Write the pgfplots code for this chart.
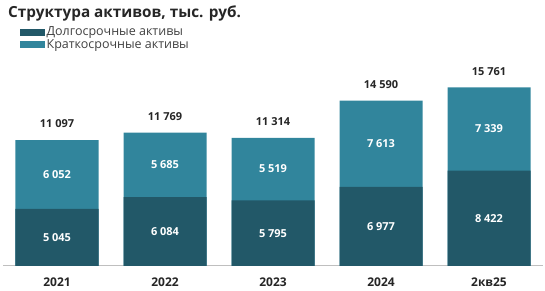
\documentclass[border=0pt]{standalone}
\usepackage{fontspec}
\setmainfont{Open Sans}
\usepackage{pgfplots}
\usepackage{pgfplotstable}
\pgfplotsset{compat=1.18}
\definecolor{darkc}{RGB}{34,88,104}
\definecolor{lightc}{RGB}{49,133,156}
\definecolor{txt}{RGB}{38,38,38}
\definecolor{legtxt}{RGB}{64,64,64}
\definecolor{axgray}{RGB}{191,191,191}

\pgfplotstableread{
x dark light total
0 5045 6052 11097
1 6084 5685 11769
2 5795 5519 11314
3 6977 7613 14590
4 8422 7339 15761
}\data

\begin{document}
\begin{tikzpicture}[x=1pt,y=1pt]
\useasboundingbox (-3,-25) rectangle (542,266);
\begin{axis}[
  at={(0,0)}, anchor=south west,
  scale only axis, width=540pt, height=204pt,
  xmin=-0.5, xmax=4.5, ymin=0, ymax=18000,
  hide y axis,
  axis x line*=bottom,
  x axis line style={axgray, line width=1pt, -},
  xtick={0,1,2,3,4},
  xticklabels={2021,2022,2023,2024,2кв25},
  major tick length=0pt,
  xticklabel style={font=\bfseries\fontsize{12}{14}\selectfont, text=txt, anchor=base, yshift=-20pt},
  /pgf/number format/assume math mode=true,
  /pgf/number format/1000 sep={\ },
  clip=false,
  title={Структура активов, тыс. руб.},
  title style={at={(axis description cs:0.0093,1.2206)}, anchor=base west, yshift=-7pt, inner sep=0pt, font=\bfseries\fontsize{15.3}{18}\selectfont, text=txt},
  legend style={at={(axis description cs:0.0315,1.1985)}, yshift=-3pt, anchor=north west, draw=none, fill=none, inner sep=0pt, font=\fontsize{12.5}{15}\selectfont, text=legtxt, cells={anchor=west}, row sep=-2pt},
]
\addlegendimage{legend image code/.code={\fill[darkc] (0pt,-3pt) rectangle (24pt,3pt);}}
\addlegendentry{Долгосрочные активы}
\addlegendimage{legend image code/.code={\fill[lightc] (0pt,-3pt) rectangle (24pt,3pt);}}
\addlegendentry{Краткосрочные активы}

\addplot[ybar, bar width=83pt, bar shift=0pt, fill=lightc, draw=none, forget plot] table[x=x,y=total]{\data};
\addplot[ybar, bar width=83pt, bar shift=0pt, fill=darkc, draw=none, forget plot] table[x=x,y=dark]{\data};

\addplot[draw=none, mark=none, forget plot, nodes near coords, point meta=explicit,
  nodes near coords style={anchor=center, inner sep=0pt, font=\bfseries\fontsize{11}{13}\selectfont, text=white}]
  table[x=x, y expr=\thisrow{dark}/2, meta=dark]{\data};
\addplot[draw=none, mark=none, forget plot, nodes near coords, point meta=explicit,
  nodes near coords style={anchor=center, inner sep=0pt, font=\bfseries\fontsize{11}{13}\selectfont, text=white}]
  table[x=x, y expr=\thisrow{dark}+\thisrow{light}/2, meta=light]{\data};
\addplot[draw=none, mark=none, forget plot, nodes near coords, point meta=explicit,
  nodes near coords style={anchor=south, inner sep=0pt, yshift=12pt, font=\bfseries\fontsize{11}{13}\selectfont, text=txt}]
  table[x=x, y=total, meta=total]{\data};
\end{axis}
\end{tikzpicture}
\end{document}
